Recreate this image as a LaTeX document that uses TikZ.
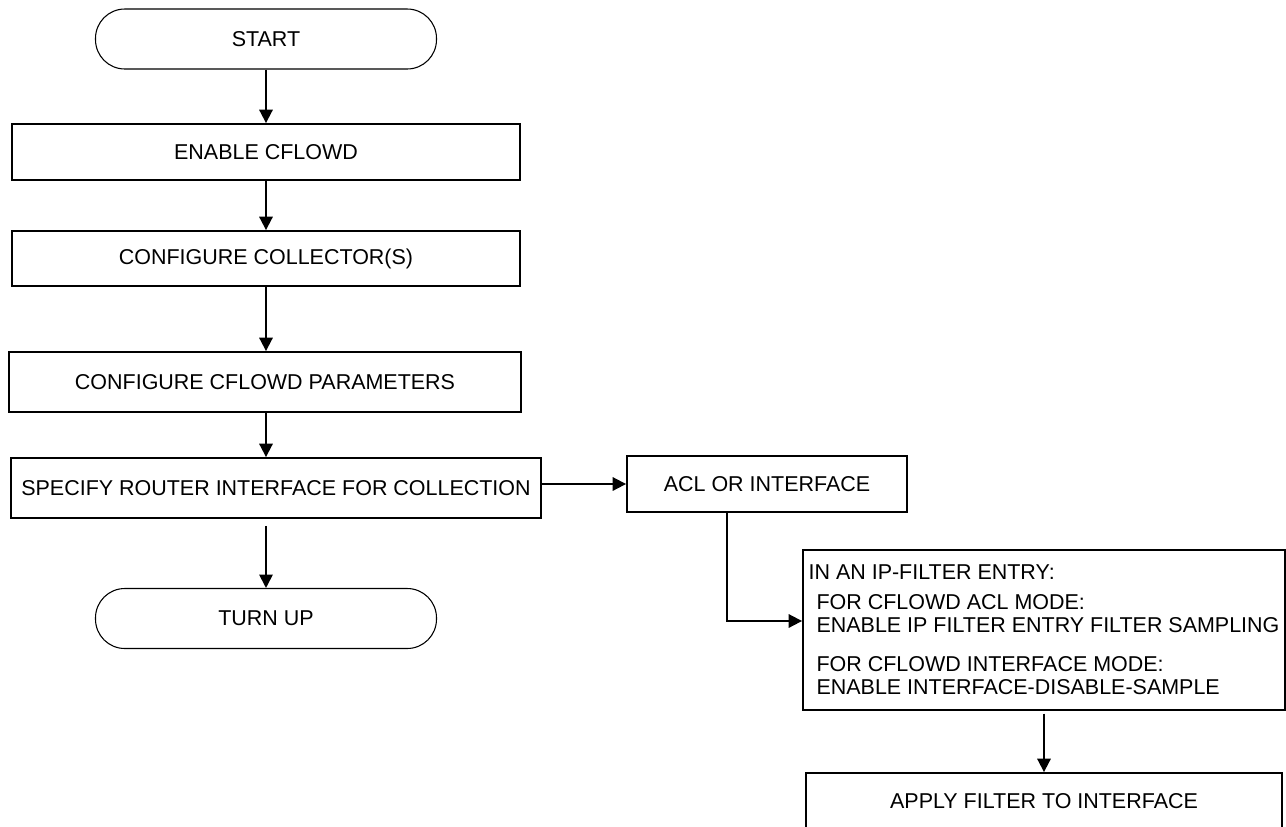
\documentclass[tikz,border=0pt]{standalone}
\usepackage{fontspec}
\setmainfont{Liberation Sans}
\usetikzlibrary{arrows.meta, calc}

\tikzset{
  txt/.style={font=\fontsize{16.1pt}{17.25pt}\selectfont},
  box/.style={draw, line width=1.4pt, txt, inner sep=2pt},
  term/.style={draw, line width=0.8pt, txt, rounded corners=22pt,
               minimum width=341*0.75pt, minimum height=60*0.75pt},
  flow/.style={line width=1.4pt, -{Triangle[width=10pt,length=10pt]}},
}

\begin{document}
\begin{tikzpicture}[x=0.75pt, y=-0.75pt]

 %%Paramaters
%% main column position, can be modified
\def\mainPos{266}
\def\sidePos{1044}
\useasboundingbox (0,0) rectangle (1286,826);

%% main column
\node[term] (start) at (\mainPos, 39) {START};
\node[box, minimum width=508*0.75pt, minimum height=56*0.75pt] (enable) at (\mainPos, 152) {ENABLE CFLOWD};
\node[box, minimum width=508*0.75pt, minimum height=55*0.75pt] (collect) at (\mainPos, 258.5) {CONFIGURE COLLECTOR(S)};
\node[box, minimum width=512*0.75pt, minimum height=60*0.75pt] (params) at (265, 382) {CONFIGURE CFLOWD PARAMETERS};
\node[box, minimum width=530*0.75pt, minimum height=60*0.75pt] (specify) at (276, 488) {SPECIFY ROUTER INTERFACE FOR COLLECTION};
\node[term] (turnup) at (\mainPos, 618.5) {TURN UP};

                \draw[flow] (start.south) -- (enable.north);
                \draw[flow] (enable.south) -- (collect.north);
                \draw[flow] (collect.south) -- (params.north -| collect.south);
                \draw[flow] (params.south -| start.south) -- (specify.north -| start.south);
                % gap under the box
                \draw[flow] ($(specify.south -| turnup.north) + (0, 7)$) -- (turnup.north);

 %% ***side branch***

\node[box, minimum width=280*0.75pt, minimum height=56*0.75pt] (acl) at (767, 484) {ACL OR INTERFACE};
\node[box, minimum width=482*0.75pt, minimum height=160*0.75pt, align=left] (ipfilter) at (\sidePos, 630)
  {IN AN IP-FILTER ENTRY:\\[5.25pt]
   \hspace*{6pt}FOR CFLOWD ACL MODE:\\
   \hspace*{6pt}ENABLE IP FILTER ENTRY FILTER SAMPLING\\[12pt]
   \hspace*{6pt}FOR CFLOWD INTERFACE MODE:\\
   \hspace*{6pt}ENABLE INTERFACE-DISABLE-SAMPLE};
\node[box, minimum width=476*0.75pt, minimum height=56*0.75pt] (apply) at (\sidePos, 801) {APPLY FILTER TO INTERFACE};

            \draw[flow] (specify.east |- acl.west) -- (acl.west);
            \draw[flow] ([xshift=-30pt]acl.south) |- ([yshift=6.75pt]ipfilter.west);
            \draw[flow] ([yshift=-2pt]ipfilter.south) -- (apply.north);
\end{tikzpicture}
\end{document}
